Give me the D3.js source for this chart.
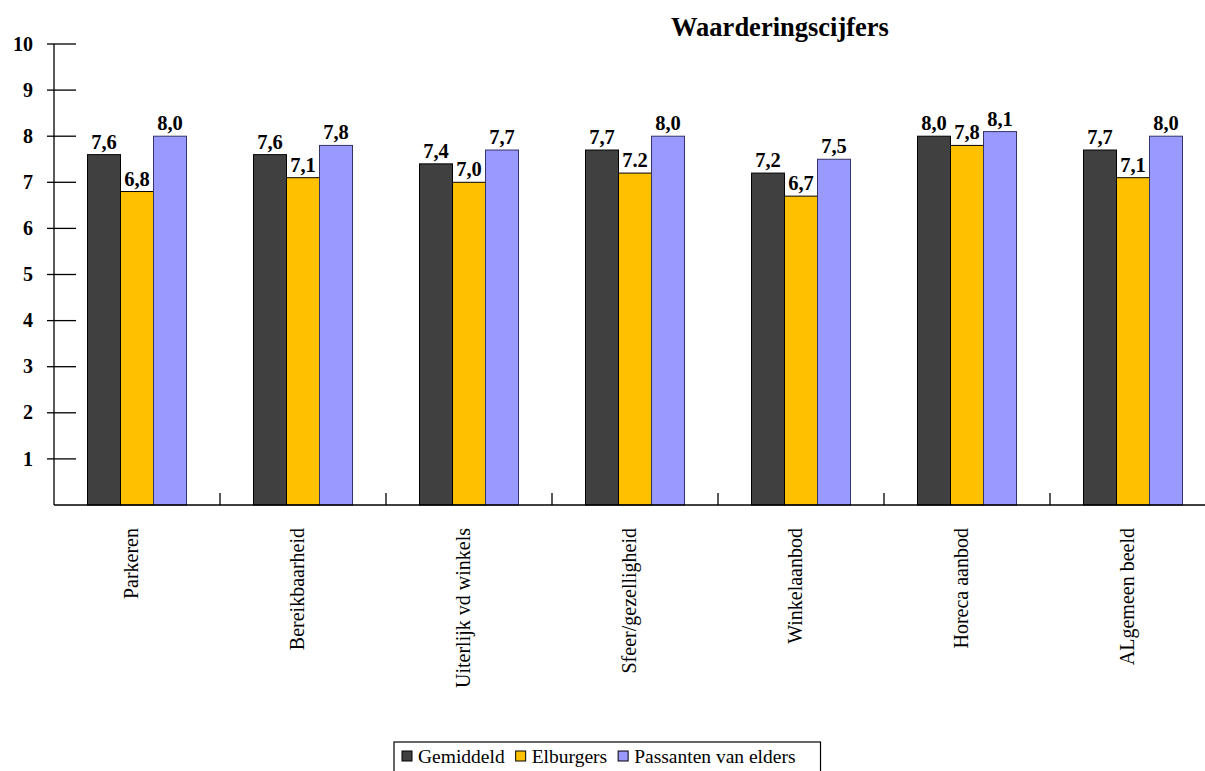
<!DOCTYPE html>
<html>
<head>
<meta charset="utf-8">
<script src="https://cdn.jsdelivr.net/npm/d3@7"></script>
<style>
  html, body { margin: 0; padding: 0; background: #fff; }
  svg { display: block; font-family: "Liberation Serif", "Times New Roman", serif; }
</style>
</head>
<body>
<svg id="chart" width="1205" height="771"></svg>
<script>
// Categories on the x axis
const categories = ["Parkeren", "Bereikbaarheid", "Uiterlijk vd winkels", "Sfeer/gezelligheid",
                    "Winkelaanbod", "Horeca aanbod", "ALgemeen beeld"];

// Series names
const seriesNames = ["Gemiddeld", "Elburgers", "Passanten van elders"];

// Printed values per series (the numbers are parsed from these strings)
const gemiddeldLabels = ["7,6", "7,6", "7,4", "7,7", "7,2", "8,0", "7,7"];
const elburgersLabels = ["6,8", "7,1", "7,0", "7.2", "6,7", "7,8", "7,1"];
const passantenLabels = ["8,0", "7,8", "7,7", "8,0", "7,5", "8,1", "8,0"];

// Y axis tick labels
const yTicks = [1, 2, 3, 4, 5, 6, 7, 8, 9, 10];

const title = "Waarderingscijfers";

const seriesColors = ["#404040", "#FFC000", "#9999FF"];
const seriesStrokes = ["#000000", "#000000", "#333366"];

const toNum = s => +s.replace(",", ".");
const series = [gemiddeldLabels, elburgersLabels, passantenLabels].map((labels, i) => ({
  name: seriesNames[i],
  color: seriesColors[i],
  stroke: seriesStrokes[i],
  points: labels.map((lab, j) => ({ cat: categories[j], label: lab, value: toNum(lab) }))
}));

const svg = d3.select("#chart");

// Plot geometry
const plotLeft = 54, plotTop = 44, plotBottom = 505, bandW = 166;
const plotRight = plotLeft + bandW * categories.length;

const x = d3.scaleBand().domain(categories).range([plotLeft, plotRight]).padding(0);
const xInner = d3.scaleBand().domain(seriesNames)
  .range([(bandW - 99) / 2, (bandW - 99) / 2 + 99]).padding(0);
const y = d3.scaleLinear().domain([0, 10]).range([plotBottom, plotTop]);

// Title
svg.append("text")
  .attr("x", 780).attr("y", 36)
  .attr("text-anchor", "middle")
  .attr("font-size", 26.5).attr("font-weight", "bold")
  .text(title);

// Bars
const groups = svg.append("g").selectAll("g")
  .data(series).join("g");

groups.selectAll("rect")
  .data(d => d.points.map(p => ({ ...p, s: d })))
  .join("rect")
  .attr("x", d => x(d.cat) + xInner(d.s.name))
  .attr("y", d => y(d.value))
  .attr("width", xInner.bandwidth())
  .attr("height", d => y(0) - y(d.value))
  .attr("fill", d => d.s.color)
  .attr("stroke", d => d.s.stroke)
  .attr("stroke-width", 1);

// Value labels above bars
groups.selectAll("text")
  .data(d => d.points.map(p => ({ ...p, s: d })))
  .join("text")
  .attr("x", d => x(d.cat) + xInner(d.s.name) + xInner.bandwidth() / 2)
  .attr("y", d => y(d.value) - 6)
  .attr("text-anchor", "middle")
  .attr("font-size", 20.5).attr("font-weight", "bold")
  .text(d => d.label);

// Y axis: line plus ticks crossing it
const yAxis = svg.append("g");
yAxis.append("line")
  .attr("x1", plotLeft).attr("x2", plotLeft)
  .attr("y1", y(10)).attr("y2", y(0))
  .attr("stroke", "#000").attr("stroke-width", 1.3);
yAxis.selectAll("line.tick")
  .data(yTicks).join("line")
  .attr("class", "tick")
  .attr("x1", plotLeft - 7).attr("x2", plotLeft + 22)
  .attr("y1", d => y(d)).attr("y2", d => y(d))
  .attr("stroke", "#000").attr("stroke-width", 1.3);
yAxis.selectAll("text")
  .data(yTicks).join("text")
  .attr("x", 33)
  .attr("y", d => y(d))
  .attr("dy", "0.33em")
  .attr("text-anchor", "end")
  .attr("font-size", 20).attr("font-weight", "bold")
  .text(d => d);

// X axis: baseline plus upward ticks between categories
const xAxis = svg.append("g");
xAxis.append("line")
  .attr("x1", plotLeft).attr("x2", plotRight)
  .attr("y1", y(0)).attr("y2", y(0))
  .attr("stroke", "#000").attr("stroke-width", 1.3);
xAxis.selectAll("line.tick")
  .data(categories.slice(1)).join("line")
  .attr("class", "tick")
  .attr("x1", d => x(d)).attr("x2", d => x(d))
  .attr("y1", y(0) - 12).attr("y2", y(0))
  .attr("stroke", "#000").attr("stroke-width", 1.3);
xAxis.selectAll("text")
  .data(categories).join("text")
  .attr("transform", d => `translate(${x(d) + x.bandwidth() / 2 + 1},${y(0) + 23}) rotate(-90)`)
  .attr("text-anchor", "end")
  .attr("font-size", 20)
  .text(d => d);

// Legend
const legend = svg.append("g");
const legendBox = legend.append("rect")
  .attr("x", 394).attr("y", 742)
  .attr("height", 40)
  .attr("fill", "#fff").attr("stroke", "#000").attr("stroke-width", 1.2);
let lx = 402;
series.forEach(s => {
  legend.append("rect")
    .attr("x", lx).attr("y", 751)
    .attr("width", 10).attr("height", 10)
    .attr("fill", s.color).attr("stroke", "#000").attr("stroke-width", 1);
  const t = legend.append("text")
    .attr("x", lx + 16).attr("y", 763)
    .attr("font-size", 19.5)
    .text(s.name);
  lx = lx + 16 + t.node().getComputedTextLength() + 11;
});
legendBox.attr("width", lx - 394 + 14);
</script>
</body>
</html>
